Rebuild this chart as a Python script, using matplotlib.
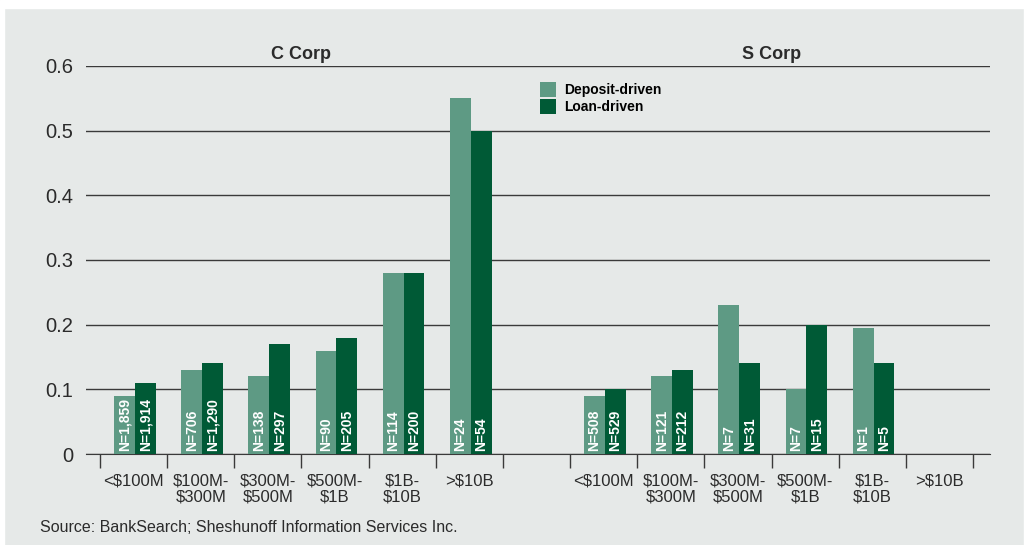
import numpy as np
import matplotlib.pyplot as plt
from matplotlib.patches import Rectangle

plt.rcParams['font.family'] = ['Liberation Sans', 'DejaVu Sans']

sizes = ['<$100M', '$100M-\n$300M', '$300M-\n$500M', '$500M-\n$1B', '$1B-\n$10B', '>$10B']

c_deposit = [0.09, 0.13, 0.12, 0.16, 0.28, 0.55]
c_loan = [0.11, 0.14, 0.17, 0.18, 0.28, 0.50]
c_deposit_n = ['N=1,859', 'N=706', 'N=138', 'N=90', 'N=114', 'N=24']
c_loan_n = ['N=1,914', 'N=1,290', 'N=297', 'N=205', 'N=200', 'N=54']

s_deposit = [0.09, 0.12, 0.23, 0.10, 0.195, 0]
s_loan = [0.10, 0.13, 0.14, 0.20, 0.14, 0]
s_deposit_n = ['N=508', 'N=121', 'N=7', 'N=7', 'N=1', '']
s_loan_n = ['N=529', 'N=212', 'N=31', 'N=15', 'N=5', '']

bg = '#e6e9e8'
c_dep = '#5e9a84'
c_lo = '#005a36'
txt = '#2b2b2b'

fig = plt.figure(figsize=(10.27, 5.45), dpi=100, facecolor=bg)
# white margins at top, left and right of the grey panel
for rx, ry, rw, rh in [(0, 537 / 545, 1, 8 / 545), (0, 0, 4 / 1027, 1), (1024 / 1027, 0, 3 / 1027, 1)]:
    fig.patches.append(Rectangle((rx, ry), rw, rh, transform=fig.transFigure,
                                 color='white', zorder=0))

ax = fig.add_axes([86 / 1027, (545 - 454) / 545, (990 - 86) / 1027, (454 - 66) / 545])
ax.set_facecolor('none')

xc = np.arange(6)
xs = np.arange(6) + 7
w = 0.31

deps = list(c_deposit) + list(s_deposit)
loans = list(c_loan) + list(s_loan)
dep_n = c_deposit_n + s_deposit_n
loan_n = c_loan_n + s_loan_n
xall = np.concatenate([xc, xs]) + 0.02

ax.bar(xall - w / 2, deps, w, color=c_dep, zorder=3, label='Deposit-driven')
ax.bar(xall + w / 2, loans, w, color=c_lo, zorder=3, label='Loan-driven')

for x, lab in zip(xall, dep_n):
    ax.text(x - w / 2, 0.004, lab, rotation=90, ha='center', va='bottom',
            color='white', fontsize=10, fontweight='bold', zorder=4)
for x, lab in zip(xall, loan_n):
    ax.text(x + w / 2, 0.004, lab, rotation=90, ha='center', va='bottom',
            color='white', fontsize=10, fontweight='bold', zorder=4)

ax.set_xlim(-0.5 - 14 / 67, 12.5 + 17 / 67)
ax.set_ylim(0, 0.6)
ax.set_yticks(np.arange(0, 0.61, 0.1))
ax.set_yticklabels(['0', '0.1', '0.2', '0.3', '0.4', '0.5', '0.6'], fontsize=14.5, color=txt)
ax.grid(axis='y', color='#3a3a3a', linewidth=1, zorder=1)
ax.tick_params(axis='y', length=0, pad=9)

# boundary ticks and category labels
bounds = [b - 0.5 for b in range(7)] + [b + 6.5 for b in range(7)]
ax.set_xticks(bounds)
ax.set_xticklabels([])
ax.tick_params(axis='x', direction='out', length=10, color='#3a3a3a', width=1)
ax.set_xticks(list(xc) + list(xs), minor=True)
ax.set_xticklabels(sizes + sizes, minor=True, fontsize=12, color=txt, linespacing=1.05)
ax.tick_params(axis='x', which='minor', length=0, pad=14)

for s in ['top', 'right', 'left']:
    ax.spines[s].set_visible(False)
ax.spines['bottom'].set_color('#3a3a3a')

ax.text(2.5, 0.6185, 'C Corp', ha='center', va='center', fontsize=13, fontweight='bold', color=txt)
ax.text(9.5, 0.6185, 'S Corp', ha='center', va='center', fontsize=13, fontweight='bold', color=txt)

ax.legend(loc='upper left', bbox_to_anchor=((534 - 86) / 904, (454 - 76) / 388),
          frameon=False, handlelength=1.2, handleheight=1.3,
          handletextpad=0.6, labelspacing=0.15, borderaxespad=0,
          prop={'weight': 'bold', 'size': 10})

fig.text(40 / 1027, (545 - 527) / 545, 'Source: BankSearch; Sheshunoff Information Services Inc.',
         fontsize=11.5, color=txt, va='center')

fig.savefig('out.png', dpi=100, facecolor=fig.get_facecolor())
